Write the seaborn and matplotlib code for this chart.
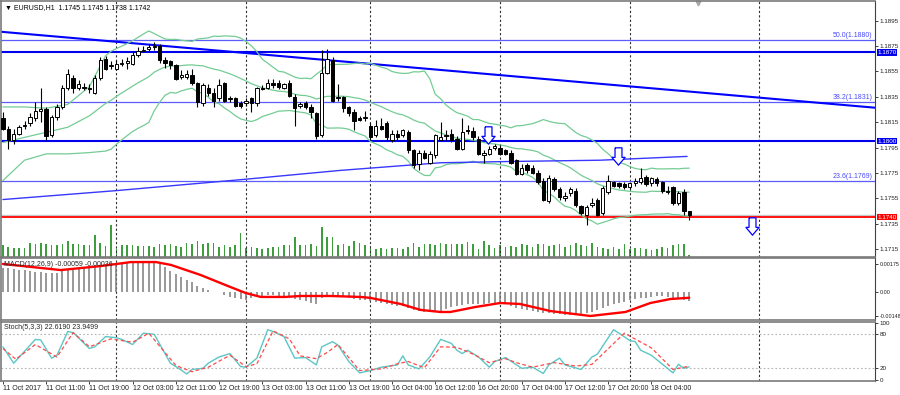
import numpy as np
import pandas as pd
import matplotlib
matplotlib.use("Agg")
import matplotlib.pyplot as plt
import matplotlib.transforms as mtrans
from matplotlib.path import Path
import seaborn as sns

sns.set_theme(style="white")
plt.rcParams['font.family'] = ['Liberation Sans', 'DejaVu Sans']

# EURUSD H1 candles (bar 0 = 11 Oct 03:00)
opens = [1.1818, 1.1810, 1.1801, 1.1806, 1.1812, 1.1814, 1.1818, 1.1824, 1.1825, 1.1805,
         1.1819, 1.1827, 1.1842, 1.1850, 1.1842, 1.1843, 1.1842, 1.1838, 1.1850, 1.1865,
         1.1859, 1.1857, 1.1861, 1.1862, 1.1861, 1.1868, 1.1871, 1.1873, 1.1874, 1.1875,
         1.1864, 1.1863, 1.1860, 1.1851, 1.1851, 1.1852, 1.1846, 1.1830, 1.1842, 1.1838,
         1.1834, 1.1846, 1.1834, 1.1834, 1.1830, 1.1830, 1.1834, 1.1830, 1.1842, 1.1842,
         1.1846, 1.1846, 1.1842, 1.1846, 1.1835, 1.1828, 1.1830, 1.1827, 1.1822, 1.1805,
         1.1854, 1.1864, 1.1834, 1.1835, 1.1827, 1.1823, 1.1818, 1.1818, 1.1812, 1.1805,
         1.1812, 1.1814, 1.1801, 1.1806, 1.1805, 1.1807, 1.1793, 1.1782, 1.1791, 1.1783,
         1.1789, 1.1801, 1.1805, 1.1806, 1.1802, 1.1794, 1.1809, 1.1808, 1.1802, 1.1789,
         1.1790, 1.1795, 1.1795, 1.1793, 1.1791, 1.1785, 1.1774, 1.1781, 1.1779, 1.1775,
         1.1769, 1.1753, 1.1770, 1.1762, 1.1755, 1.1759, 1.1761, 1.1749, 1.1742, 1.1750,
         1.1754, 1.1743, 1.1760, 1.1768, 1.1767, 1.1766, 1.1764, 1.1767, 1.1768, 1.1772,
         1.1767, 1.1770, 1.1768, 1.1761, 1.1764, 1.1751, 1.1760, 1.1745]
highs = [1.1823, 1.1812, 1.1810, 1.1813, 1.1816, 1.1822, 1.1831, 1.1842, 1.1827, 1.1821,
         1.1829, 1.1844, 1.1857, 1.1852, 1.1848, 1.1846, 1.1845, 1.1852, 1.1866, 1.1867,
         1.1863, 1.1864, 1.1865, 1.1866, 1.1871, 1.1874, 1.1875, 1.1877, 1.1878, 1.1877,
         1.1866, 1.1864, 1.1861, 1.1856, 1.1856, 1.1857, 1.1847, 1.1846, 1.1845, 1.1842,
         1.1849, 1.1847, 1.1836, 1.1835, 1.1832, 1.1834, 1.1835, 1.1843, 1.1844, 1.1849,
         1.1849, 1.1848, 1.1846, 1.1848, 1.1837, 1.1831, 1.1832, 1.1829, 1.1823, 1.1872,
         1.1873, 1.1866, 1.1845, 1.1836, 1.1828, 1.1825, 1.1820, 1.1824, 1.1814, 1.1817,
         1.1818, 1.1816, 1.1809, 1.1809, 1.1810, 1.1809, 1.1794, 1.1793, 1.1793, 1.1792,
         1.1806, 1.1815, 1.1809, 1.1810, 1.1804, 1.1818, 1.1813, 1.1811, 1.1804, 1.1793,
         1.1796, 1.1798, 1.1797, 1.1794, 1.1793, 1.1786, 1.1782, 1.1783, 1.1781, 1.1777,
         1.1771, 1.1773, 1.1772, 1.1764, 1.1760, 1.1764, 1.1763, 1.1750, 1.1750, 1.1755,
         1.1755, 1.1765, 1.1773, 1.1769, 1.1768, 1.1768, 1.1768, 1.1771, 1.1779, 1.1773,
         1.1772, 1.1772, 1.1769, 1.1765, 1.1765, 1.1761, 1.1762, 1.1745]
lows = [1.1809, 1.1794, 1.1798, 1.1805, 1.1810, 1.1812, 1.1816, 1.1815, 1.1801, 1.1803,
        1.1817, 1.1825, 1.1840, 1.1838, 1.1840, 1.1840, 1.1838, 1.1837, 1.1848, 1.1856,
        1.1857, 1.1856, 1.1859, 1.1857, 1.1860, 1.1866, 1.1870, 1.1871, 1.1872, 1.1862,
        1.1858, 1.1857, 1.1848, 1.1849, 1.1849, 1.1844, 1.1827, 1.1828, 1.1836, 1.1827,
        1.1832, 1.1831, 1.1831, 1.1827, 1.1826, 1.1828, 1.1823, 1.1828, 1.1840, 1.1841,
        1.1842, 1.1841, 1.1841, 1.1835, 1.1812, 1.1826, 1.1825, 1.1818, 1.1802, 1.1803,
        1.1853, 1.1831, 1.1832, 1.1823, 1.1820, 1.1809, 1.1816, 1.1816, 1.1801, 1.1803,
        1.1809, 1.1801, 1.1799, 1.1801, 1.1803, 1.1791, 1.1779, 1.1777, 1.1786, 1.1782,
        1.1787, 1.1800, 1.1801, 1.1799, 1.1793, 1.1793, 1.1806, 1.1801, 1.1789, 1.1783,
        1.1789, 1.1793, 1.1789, 1.1789, 1.1782, 1.1773, 1.1773, 1.1775, 1.1774, 1.1766,
        1.1753, 1.1751, 1.1761, 1.1754, 1.1753, 1.1757, 1.1748, 1.1742, 1.1734, 1.1748,
        1.1741, 1.1742, 1.1758, 1.1764, 1.1763, 1.1762, 1.1762, 1.1765, 1.1766, 1.1765,
        1.1765, 1.1765, 1.1759, 1.1758, 1.1750, 1.1750, 1.1742, 1.1738]
closes = [1.1810, 1.1801, 1.1806, 1.1811, 1.1813, 1.1819, 1.1824, 1.1825, 1.1804, 1.1819,
          1.1827, 1.1842, 1.1853, 1.1842, 1.1845, 1.1842, 1.1841, 1.1850, 1.1864, 1.1857,
          1.1860, 1.1861, 1.1862, 1.1863, 1.1868, 1.1871, 1.1872, 1.1874, 1.1875, 1.1864,
          1.1862, 1.1860, 1.1849, 1.1852, 1.1853, 1.1846, 1.1831, 1.1844, 1.1838, 1.1832,
          1.1844, 1.1832, 1.1833, 1.1828, 1.1828, 1.1832, 1.1830, 1.1842, 1.1841, 1.1846,
          1.1844, 1.1843, 1.1845, 1.1836, 1.1826, 1.1829, 1.1827, 1.1823, 1.1804, 1.1854,
          1.1865, 1.1832, 1.1835, 1.1826, 1.1822, 1.1816, 1.1817, 1.1819, 1.1803, 1.1812,
          1.1810, 1.1803, 1.1806, 1.1803, 1.1809, 1.1793, 1.1781, 1.1791, 1.1787, 1.1790,
          1.1805, 1.1803, 1.1804, 1.1801, 1.1794, 1.1807, 1.1808, 1.1803, 1.1790, 1.1791,
          1.1794, 1.1796, 1.1790, 1.1790, 1.1783, 1.1774, 1.1779, 1.1777, 1.1775, 1.1768,
          1.1754, 1.1771, 1.1762, 1.1756, 1.1757, 1.1762, 1.1750, 1.1743, 1.1748, 1.1751,
          1.1742, 1.1763, 1.1769, 1.1765, 1.1765, 1.1764, 1.1767, 1.1769, 1.1771, 1.1766,
          1.1771, 1.1767, 1.1761, 1.1760, 1.1751, 1.1759, 1.1745, 1.1742]
volumes = [1200, 1000, 900, 900, 900, 1400, 1300, 1400, 1300, 1200,
           1200, 1300, 1600, 1300, 1300, 1200, 1200, 2200, 1400, 1100,
           3200, 800, 1200, 1200, 1200, 1100, 1100, 1100, 1000, 1300,
           1200, 1300, 1100, 1000, 1400, 1300, 1600, 1300, 1400, 1400,
           1000, 1200, 1000, 1200, 2400, 900, 1000, 900, 800, 900,
           1000, 1000, 1200, 1200, 2000, 1200, 1200, 1300, 1100, 3000,
           2000, 2000, 1200, 1300, 1100, 1600, 1400, 1200, 1100, 800,
           900, 800, 900, 900, 800, 1000, 1400, 1000, 1300, 1300,
           1200, 1400, 1300, 1300, 1300, 1300, 1500, 1300, 800, 1600,
           1200, 900, 1200, 1000, 1100, 1000, 1300, 1200, 1000, 1300,
           1300, 1100, 1200, 1300, 1000, 1200, 1400, 1200, 1100, 1400,
           1000, 900, 800, 1000, 800, 1300, 800, 900, 900, 800,
           700, 800, 1000, 900, 1200, 1300, 1300, 200]

# Bollinger band start (before 20 bars of history are on the chart)
bb_head_bars = [0, 4, 8, 12, 16]
bb_head_upper = [1.1827, 1.1827, 1.1826, 1.1829, 1.1843]
bb_head_mid = [1.1799, 1.1803, 1.1807, 1.1811, 1.1820]
bb_head_lower = [1.1769, 1.1785, 1.1790, 1.1790, 1.1791]

# long moving average (blue)
ma_bars = [0, 20.9, 44.9, 62.5, 81.0, 93.9, 110.5, 126.6]
ma_vals = [1.1754, 1.1761, 1.1770, 1.1777, 1.1783, 1.1784, 1.1785, 1.1788]

# drawn objects
trend_bars = [-0.4, 161.4]
trend_vals = [1.18863, 1.18264]
levels_strong = [1.1870, 1.1800]
fib_levels = [1.1880, 1.1831, 1.1769]
fib_names = ["50.0(1.1880)", "38.2(1.1831)", "23.6(1.1769)"]
red_level = 1.1740
bid_level = 1.1742
arrow_bars = [89.8, 113.9, 138.6]
arrow_vals = [1.1805, 1.1788, 1.1733]

# MACD(12,26,9), in 1e-5
macd_main = [150, 150, 144, 138, 138, 131, 125, 125, 119, 119,
             119, 131, 144, 144, 144, 150, 150, 156, 163, 175,
             181, 181, 181, 187, 187, 187, 187, 187, 187, 175,
             156, 131, 113, 94, 75, 63, 38, 25, 10, 3,
             -3, -19, -31, -37, -44, -50, -40, -31, -25, -19,
             -19, -22, -25, -28, -44, -50, -56, -69, -75, -40,
             -19, -22, -25, -31, -37, -44, -50, -50, -56, -62,
             -69, -75, -81, -87, -90, -100, -112, -119, -125, -128,
             -125, -119, -106, -94, -90, -81, -75, -72, -75, -72,
             -69, -69, -72, -78, -87, -97, -106, -112, -119, -122,
             -131, -131, -137, -140, -144, -144, -144, -137, -131, -125,
             -112, -100, -87, -78, -69, -62, -50, -44, -40, -37,
             -31, -28, -28, -31, -37, -40, -50, -59]
macd_sig_bars = [0, 10.7, 18.1, 23.7, 28.3, 31.1, 36.6, 42.1, 44.9, 47.7,
                 52.3, 55.1, 60.6, 66.2, 68, 73.6, 77.3, 81, 82.8, 87.4,
                 92, 95.7, 101.3, 108.7, 115.2, 119.8, 123.5, 127]
macd_sig_vals = [175, 137, 162, 187, 187, 169, 106, 31, -6, -31,
                 -31, -25, -25, -31, -37, -75, -112, -125, -125, -94,
                 -69, -75, -119, -150, -125, -69, -44, -36]

# Stochastic(5,3,3)
stoch_k_bars = [0, 2, 6, 7, 9, 10, 12, 13, 16, 17, 19, 21, 22, 24, 26, 28, 31, 33, 34, 35,
                37, 38, 40, 42, 44, 45, 47, 49, 50, 52, 54, 56, 58, 59, 61, 62, 64, 66, 68, 70,
                73, 74, 75, 77, 79, 81, 83, 84, 85, 86, 88, 90, 91, 93, 96, 98, 100, 101, 103, 104,
                107, 109, 110, 113, 114, 116, 117, 118, 120, 124, 125, 126, 127]
stoch_k_vals = [58, 29, 71, 70, 38, 43, 85, 83, 55, 58, 76, 74, 71, 62, 82, 80, 29, 17, 10, 18,
                20, 29, 40, 46, 23, 22, 38, 88, 85, 76, 38, 39, 26, 58, 67, 61, 32, 12, 16, 22,
                26, 42, 26, 19, 40, 71, 64, 52, 46, 52, 40, 22, 32, 39, 20, 22, 11, 26, 38, 26,
                18, 40, 45, 88, 82, 69, 67, 52, 43, 12, 27, 20, 22.6]
stoch_d_bars = [0, 2.4, 6, 10, 13, 16, 20, 24, 27, 32, 35, 38, 42, 45, 47, 50, 53, 55, 58, 60,
                62, 66, 70, 73, 75, 78, 81, 84, 87, 90, 93, 95, 98, 102, 106, 109, 115, 120, 124, 127]
stoch_d_vals = [55, 36, 62, 40, 83, 58, 72, 66, 82, 25, 14, 22, 43, 23, 28, 86, 72, 42, 37, 48,
                62, 16, 19, 28, 32, 21, 58, 57, 45, 30, 37, 30, 22, 30, 24, 27, 82, 56, 18, 23.9]

x_label_bars = [0, 8, 16, 24, 32, 40, 48, 56, 64, 72, 80, 88, 96, 104, 112, 120]
x_labels = ["11 Oct 2017", "11 Oct 11:00", "11 Oct 19:00", "12 Oct 03:00", "12 Oct 11:00",
            "12 Oct 19:00", "13 Oct 03:00", "13 Oct 11:00", "13 Oct 19:00", "16 Oct 04:00",
            "16 Oct 12:00", "16 Oct 20:00", "17 Oct 04:00", "17 Oct 12:00", "17 Oct 20:00",
            "18 Oct 04:00"]
day_grid_bars = [21, 45, 68, 92, 116, 140]

FS = 5
YFS = 4.5
bars = np.arange(len(closes))
o = np.array(opens); c = np.array(closes)

fig = plt.figure(figsize=(9, 3.95), dpi=100)
rect_main = [0.001, 0.3494, 0.9712, 0.6486]
ax_vol = fig.add_axes(rect_main)
ax = fig.add_axes(rect_main, sharex=ax_vol)
ax_macd = fig.add_axes([0.001, 0.1899, 0.9712, 0.1570], sharex=ax_vol)
ax_st = fig.add_axes([0.001, 0.0354, 0.9712, 0.1494], sharex=ax_vol)
ax_vol.set_zorder(0)
ax.set_zorder(1)
ax.patch.set_visible(False)

ax_vol.bar(bars, volumes, width=0.3, color='#3e9e3e', linewidth=0)
ax_vol.set_ylim(0, 25700)
ax_vol.axis('off')

ax.set_xlim(-0.37, 161.37)
ax.set_ylim(1.17087, 1.19107)

for b in day_grid_bars:
    for a in (ax, ax_macd, ax_st):
        a.axvline(b, color='#303030', lw=0.8, ls=(0, (2, 2)), zorder=0.5)

# horizontal levels
for lv in fib_levels:
    ax.axhline(lv, color='#5c5cff', lw=0.9, zorder=1)
for lv in levels_strong:
    ax.axhline(lv, color='#0000ee', lw=1.5, zorder=1)
ax.axhline(bid_level, color='#c8c8c8', lw=1.0, zorder=1)
ax.axhline(red_level, color='#ff0000', lw=1.3, zorder=1)
sns.lineplot(x=trend_bars, y=trend_vals, ax=ax, color='#0000ff', lw=1.5, zorder=2)

# Bollinger bands
cs = pd.Series(closes)
bb_mid = cs.rolling(20).mean()
bb_sd = cs.rolling(20).std(ddof=0)
tail = list(range(19, len(closes)))
for head, line in ((bb_head_upper, bb_mid + 2 * bb_sd), (bb_head_mid, bb_mid),
                   (bb_head_lower, bb_mid - 2 * bb_sd)):
    xs = bb_head_bars + tail
    ys = head + list(line.iloc[19:])
    sns.lineplot(x=xs, y=ys, ax=ax, color='#74cc94', lw=0.9, sort=False,
                 estimator=None, zorder=2)

sns.lineplot(x=ma_bars, y=ma_vals, ax=ax, color='#3838ff', lw=1.0, zorder=2)

# candles
up = c >= o
ax.vlines(bars, lows, highs, color='black', lw=0.8, zorder=3)
ax.bar(bars, np.abs(c - o), bottom=np.minimum(o, c), width=0.62,
       color=np.where(up, 'white', 'black'), edgecolor='black', linewidth=0.7, zorder=4)

# down arrows
arrow = Path([(-0.2, 0.5), (0.2, 0.5), (0.2, -0.05), (0.38, -0.05), (0, -0.5),
              (-0.38, -0.05), (-0.2, -0.05), (-0.2, 0.5)])
ax.plot(arrow_bars, arrow_vals, ls='none', marker=arrow, markersize=12.5,
        mfc='white', mec='#0000ff', mew=0.9, zorder=6)

# fib texts and right side price boxes
bt = mtrans.blended_transform_factory(ax.transAxes, ax.transData)
for lv, name in zip(fib_levels, fib_names):
    ax.text(0.9975, lv + 0.00004, name, transform=bt, ha='right', va='bottom',
            fontsize=FS, color='#4a4aff')
for lv, fc in ((levels_strong[0], '#0000ee'), (levels_strong[1], '#0000ee'),
               (red_level, '#ff0000')):
    ax.text(1.0025, lv, f"{lv:.4f}", transform=bt, ha='left', va='center', fontsize=YFS,
            color='white', clip_on=False, zorder=10,
            bbox=dict(boxstyle='square,pad=0.1', fc=fc, ec='none'))

ax.text(0.005, 0.972, "\u25bc EURUSD,H1  1.1745 1.1745 1.1738 1.1742", transform=ax.transAxes,
        fontsize=FS, va='center', ha='left', color='black')
ax.plot([698 / 875], [0.992], transform=ax.transAxes, marker='v', ms=3.5, color='#a8a8a8',
        ls='none', clip_on=False)

ax.yaxis.tick_right()
ax.set_yticks([1.1715, 1.1735, 1.1755, 1.1775, 1.1795, 1.1815, 1.1835, 1.1855, 1.1875, 1.1895])
ax.yaxis.set_major_formatter(matplotlib.ticker.FormatStrFormatter('%.4f'))

# MACD panel
macd_v = np.array(macd_main) * 1e-5
ax_macd.vlines(bars, 0, macd_v, color='#7c7c7c', lw=1.1, zorder=2)
sns.lineplot(x=macd_sig_bars, y=np.array(macd_sig_vals) * 1e-5, ax=ax_macd, color='#ff0000',
             lw=1.7, zorder=3)
ax_macd.set_ylim(-0.00175, 0.002125)
ax_macd.yaxis.tick_right()
ax_macd.set_yticks([0.00175, 0.0, -0.00148])
ax_macd.set_yticklabels(["0.00175", "0.00", "-0.00148"])
ax_macd.text(0.004, 0.90, "MACD(12,26,9) -0.00059 -0.00036", transform=ax_macd.transAxes,
             fontsize=FS, va='center', ha='left')

# Stochastic panel
for lv in (80, 20):
    ax_st.axhline(lv, color='#b4b4b4', lw=0.8, ls=(0, (1.5, 2)), zorder=1)
sns.lineplot(x=stoch_k_bars, y=stoch_k_vals, ax=ax_st, color='#5cc6c6', lw=1.0, zorder=3)
sns.lineplot(x=stoch_d_bars, y=stoch_d_vals, ax=ax_st, color='#ff4a4a', lw=0.9,
             ls=(0, (3, 2)), zorder=3)
ax_st.set_ylim(-2.4, 101.7)
ax_st.yaxis.tick_right()
ax_st.set_yticks([100, 80, 20, 0])
ax_st.text(0.004, 0.90, "Stoch(5,3,3) 22.6190 23.9499", transform=ax_st.transAxes,
           fontsize=FS, va='center', ha='left')

ax_st.set_xticks(x_label_bars)
ax_st.set_xticklabels(x_labels, ha='left')
for a in (ax, ax_macd):
    a.tick_params(axis='x', bottom=False, labelbottom=False)
for a in (ax, ax_macd, ax_st):
    a.set_xlabel("")
    a.set_ylabel("")
    a.tick_params(axis='y', right=True, length=2.5, width=0.6, pad=0.6, labelsize=YFS,
                  colors='#202020')
    for s in a.spines.values():
        s.set_color('#7a7a7a')
        s.set_linewidth(1.2)
    a.spines['right'].set_color('#404040')
    a.spines['right'].set_linewidth(0.8)
ax_macd.tick_params(axis='y', labelsize=3.9)
ax_st.tick_params(axis='x', bottom=True, length=2, width=0.6, pad=1, labelsize=FS,
                  colors='#202020')

fig.savefig("out.png", dpi=100)
